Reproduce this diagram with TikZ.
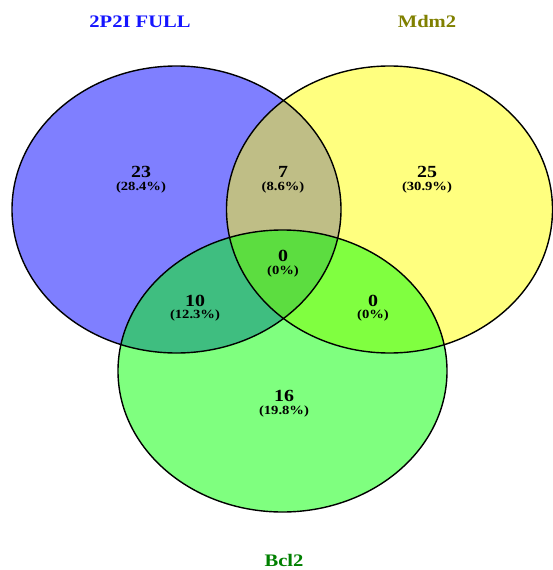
\documentclass[tikz,border=0pt]{standalone}
\usepackage{fontspec}
\newfontfamily\vfont[FakeStretch=1.17]{Liberation Serif}
\definecolor{setA}{HTML}{7F7FFF}
\definecolor{setB}{HTML}{FFFF7F}
\definecolor{setC}{HTML}{7FFF7F}
\definecolor{setAB}{HTML}{BFBE86}
\definecolor{setAC}{HTML}{3FBE80}
\definecolor{setBC}{HTML}{80FF40}
\definecolor{setABC}{HTML}{5CDD40}
\definecolor{labA}{HTML}{1515FF}
\definecolor{labB}{HTML}{808000}
\definecolor{labC}{HTML}{008000}
\tikzset{
  setname/.style={font=\vfont\bfseries\fontsize{17.6}{20}\selectfont, inner sep=0pt},
  count/.style={font=\vfont\bfseries\fontsize{17}{19}\selectfont, inner sep=0pt},
  share/.style={font=\vfont\bfseries\fontsize{12.5}{14}\selectfont, inner sep=0pt},
  outline/.style={draw=black, line width=1.4pt}
}
% the three sets
\def\setApath{(176.5,209.5) ellipse [x radius=164.5pt, y radius=143.5pt]}
\def\setBpath{(389.5,209.5) ellipse [x radius=163pt, y radius=143.5pt]}
\def\setCpath{(282.5,371) ellipse [x radius=164.5pt, y radius=141pt]}
\begin{document}
\begin{tikzpicture}[x=1pt, y=-1pt]
\useasboundingbox (0,0) rectangle (553,570);
% region fills
\fill[setA] \setApath;
\fill[setB] \setBpath;
\begin{scope}
  \clip \setApath;
  \fill[setAB] \setBpath;
\end{scope}
\fill[setC] \setCpath;
\begin{scope}
  \clip \setCpath;
  \fill[setAC] \setApath;
  \fill[setBC] \setBpath;
  \clip \setApath;
  \fill[setABC] \setBpath;
\end{scope}
% outlines
\draw[outline] \setApath;
\draw[outline] \setBpath;
\draw[outline] \setCpath;
% set names
\node[setname, text=labA] (nameA) at (140,21.5) {2P2I FULL};
\node[setname, text=labB] (nameB) at (427,21.5) {Mdm2};
\node[setname, text=labC] (nameC) at (284,560) {Bcl2};
% region counts
\node[count] (nA) at (141,172) {23};
\node[share] (pA) at (141,187) {(28.4\%)};
\node[count] (nAB) at (283,172) {7};
\node[share] (pAB) at (283,187) {(8.6\%)};
\node[count] (nB) at (427,172) {25};
\node[share] (pB) at (427,187) {(30.9\%)};
\node[count] (nABC) at (283,256) {0};
\node[share] (pABC) at (283,271) {(0\%)};
\node[count] (nAC) at (195,301) {10};
\node[share] (pAC) at (195,315.5) {(12.3\%)};
\node[count] (nBC) at (373,301) {0};
\node[share] (pBC) at (373,315.5) {(0\%)};
\node[count] (nC) at (284,396) {16};
\node[share] (pC) at (284,411) {(19.8\%)};
\end{tikzpicture}
\end{document}
